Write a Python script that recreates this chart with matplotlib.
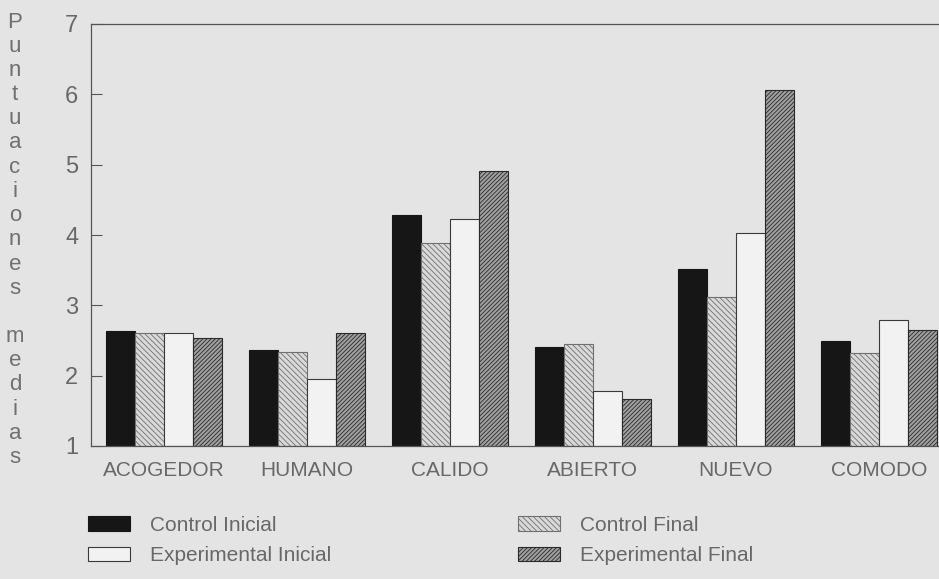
import numpy as np
import matplotlib.pyplot as plt
from matplotlib.patches import Patch

plt.rcParams['font.family'] = ['Liberation Sans', 'DejaVu Sans']
plt.rcParams['hatch.linewidth'] = 0.6

# mean scores per adjective
categorias = ['ACOGEDOR', 'HUMANO', 'CALIDO', 'ABIERTO', 'NUEVO', 'COMODO']
control_inicial = [2.64, 2.37, 4.29, 2.41, 3.52, 2.49]
control_final = [2.61, 2.34, 3.89, 2.45, 3.12, 2.32]
experimental_inicial = [2.61, 1.95, 4.23, 1.78, 4.03, 2.79]
experimental_final = [2.54, 2.61, 4.91, 1.67, 6.06, 2.65]

series_labels = ['Control Inicial', 'Control Final',
                 'Experimental Inicial', 'Experimental Final']
yticks = [1, 2, 3, 4, 5, 6, 7]

bg = '#e4e4e4'
txt = '#686868'

styles = [
    dict(facecolor='#161616', edgecolor='#161616', hatch=None),
    dict(facecolor='#d9d9d9', edgecolor='#707070', hatch='\\' * 6),
    dict(facecolor='#f2f2f2', edgecolor='#3a3a3a', hatch=None),
    dict(facecolor='#a0a0a0', edgecolor='#2a2a2a', hatch='/' * 8),
]

fig = plt.figure(figsize=(9.39, 5.79), dpi=100, facecolor=bg)
ax = fig.add_axes([91/939, 1 - 446/579, 1 - 91/939, (446 - 24)/579])
ax.set_facecolor(bg)

x = np.arange(len(categorias))
w = 0.2025
datos = [control_inicial, control_final, experimental_inicial, experimental_final]
for i, (vals, st) in enumerate(zip(datos, styles)):
    heights = np.array(vals) - 1
    ax.bar(x + (i - 1.5) * w, heights, w, bottom=1, linewidth=0.8, **st)

ax.set_xlim(-0.51, 5.42)
ax.set_ylim(1, 7)
ax.set_yticks(yticks)
ax.set_xticks(x)
ax.set_xticklabels(categorias, fontsize=15, color=txt)
ax.tick_params(axis='x', length=0, pad=11)
ax.tick_params(axis='y', direction='in', length=8, width=0.8, color='#555555',
               labelsize=17, labelcolor=txt, pad=9)

for s in ['left', 'bottom', 'top']:
    ax.spines[s].set_color('#555555')
    ax.spines[s].set_linewidth(0.9)
ax.spines['right'].set_visible(False)

# stacked vertical y label
ylabel = 'Puntuaciones medias'
for k, ch in enumerate(ylabel):
    fig.text(15/939, 1 - (22 + k * 24.2)/579, ch, fontsize=16, color='#707070',
             ha='center', va='center')

handles = [Patch(**styles[0], linewidth=0.8, label=series_labels[0]),
           Patch(**styles[2], linewidth=0.8, label=series_labels[2]),
           Patch(**styles[1], linewidth=0.8, label=series_labels[1]),
           Patch(**styles[3], linewidth=0.8, label=series_labels[3])]
leg = fig.legend(handles=handles, ncol=2, loc='upper left',
                 bbox_to_anchor=(88/939, 1 - 516/579), frameon=False,
                 fontsize=15, handlelength=2.0, handleheight=0.7,
                 handletextpad=0.96, columnspacing=9.0, labelspacing=0.55,
                 borderpad=0, borderaxespad=0)
for t in leg.get_texts():
    t.set_color(txt)

plt.savefig('out.png', dpi=100, facecolor=bg)
